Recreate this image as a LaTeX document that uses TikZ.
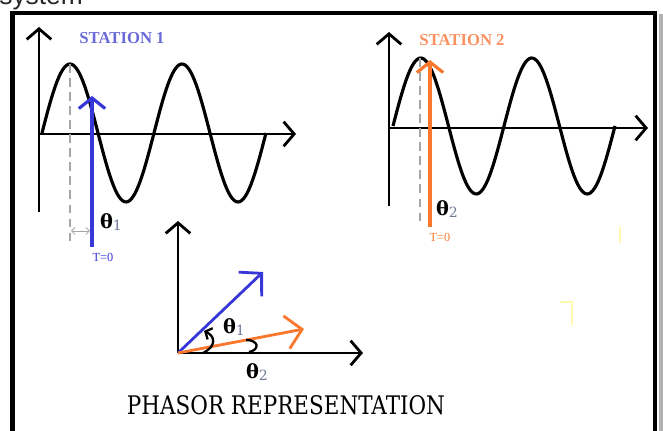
\documentclass[tikz,border=0pt]{standalone}
\usepackage{fontspec}
\setmainfont{Liberation Serif}
\newfontfamily\capfont{Liberation Sans}
\newfontfamily\slabfont{DejaVu Serif}
\usetikzlibrary{arrows.meta,positioning}

\definecolor{stablue}{RGB}{55,55,215}
\definecolor{stalabelA}{RGB}{105,105,215}
\definecolor{staorange}{RGB}{250,120,45}
\definecolor{stalabelB}{RGB}{250,145,95}
\definecolor{subgray}{RGB}{110,120,150}
\definecolor{faintyel}{RGB}{255,248,175}

\newcommand{\thsub}[1]{\textcolor{subgray}{\raisebox{-1.5pt}{\mdseries\fontsize{8}{8}\selectfont #1}}}

\begin{document}
\begin{tikzpicture}[x=0.02cm,y=-0.02cm,
  axis/.style={line width=1.6pt,-{Straight Barb[length=6pt,width=14pt]}},
  vec/.style={line width=1.8pt,-{Straight Barb[length=6pt,width=15pt]}},
  bigvec/.style={line width=1.6pt,-{Straight Barb[length=9pt,width=19pt]}},
  wave/.style={line width=1.8pt},
  guide/.style={gray!70,line width=0.9pt,dash pattern=on 5pt off 3pt},
  gap/.style={gray!70,line width=0.5pt,{Straight Barb[length=2pt,width=4pt]}-{Straight Barb[length=2pt,width=4pt]}},
  stalabel/.style={font=\bfseries\fontsize{9.5}{10}\selectfont},
  tlabel/.style={font=\fontsize{7}{7}\selectfont},
  theta/.style={font=\slabfont\bfseries\fontsize{11}{11}\selectfont,inner sep=0pt},
  faint/.style={faintyel,line width=1.3pt}]
\useasboundingbox (0,0) rectangle (663,431);
\clip (0,0) rectangle (663,431);

% cut off caption above the frame
\node[anchor=base west,inner sep=0pt,font=\capfont\fontsize{15}{15}\selectfont,text=black!85] (cap) at (-1,5) {system};

% frame
\draw[gray!60,line width=2pt] (661,14) -- (661,440);
\draw[line width=2.8pt] (12.5,13) rectangle (655,470);

% station 1
\coordinate (s1o) at (39,134);
\coordinate (s1b) at (39,212);
\coordinate (s1t) at (39,27);
\coordinate (s1r) at (296,134);
\draw[axis] (s1b) -- (s1t);
\draw[axis] (s1o) -- (s1r);
\draw[wave] plot[domain=0:224,samples=120] ({42+\x},{133-69*sin(3.2143*\x)});
\coordinate (s1pk) at (70,64);
\coordinate (s1dn) at (70,246);
\draw[guide] (s1pk) -- (s1dn);
\coordinate (s1v0) at (92,247);
\coordinate (s1v1) at (92,96);
\draw[vec,stablue] (s1v0) -- (s1v1);
\coordinate (s1g0) at (71,231);
\coordinate (s1g1) at (90,231);
\draw[gap] (s1g0) -- (s1g1);
\node[stalabel,text=stalabelA] (s1name) at (122,38) {STATION 1};
\node[tlabel,text=stablue] (s1zero) at (103,257) {T=0};
\node[theta] (s1th) at (111,222) {θ\thsub{1}};

% station 2
\coordinate (s2o) at (389,128);
\coordinate (s2b) at (389,206);
\coordinate (s2t) at (389,32);
\coordinate (s2r) at (648,128);
\draw[axis] (s2b) -- (s2t);
\draw[axis] (s2o) -- (s2r);
\draw[wave] plot[domain=0:222,samples=120] ({393+\x},{126-68*sin(3.2432*\x)});
\coordinate (s2pk) at (420,58);
\coordinate (s2dn) at (420,225);
\draw[guide] (s2pk) -- (s2dn);
\coordinate (s2v0) at (430,227);
\coordinate (s2v1) at (430,60);
\draw[vec,staorange] (s2v0) -- (s2v1);
\node[stalabel,text=stalabelB] (s2name) at (462,40) {STATION 2};
\node[tlabel,text=staorange] (s2zero) at (440,237) {T=0};
\node[theta] (s2th) at (447,209) {θ\thsub{2}};

% phasors
\coordinate (po) at (178,353);
\coordinate (py) at (178,221);
\coordinate (px) at (363,353);
\coordinate (pb) at (263,272);
\coordinate (pr) at (304,329);
\draw[axis] (po) -- (py);
\draw[axis] (po) -- (px);
\draw[bigvec,stablue] (po) -- (pb);
\draw[bigvec,staorange] (po) -- (pr);
\draw[line width=1.3pt,-{Straight Barb[length=3pt,width=7pt]}] (203,353) .. controls (217,346) and (215,336) .. (204,331);
\draw[line width=1.3pt] (246,340) .. controls (259,340) and (260,350) .. (249,352);
\node[theta] (pth1) at (234,327) {θ\thsub{1}};
\node[theta] (pth2) at (257,372) {θ\thsub{2}};
\node[font=\slabfont,inner sep=0pt] (title) at (286,405) {\resizebox{181pt}{10.8pt}{PHASOR REPRESENTATION}};

% faint marks
\draw[faint] (620,227) -- (620,243);
\draw[faint] (560,302) -- (572,302) -- (572,325);
\end{tikzpicture}
\end{document}
